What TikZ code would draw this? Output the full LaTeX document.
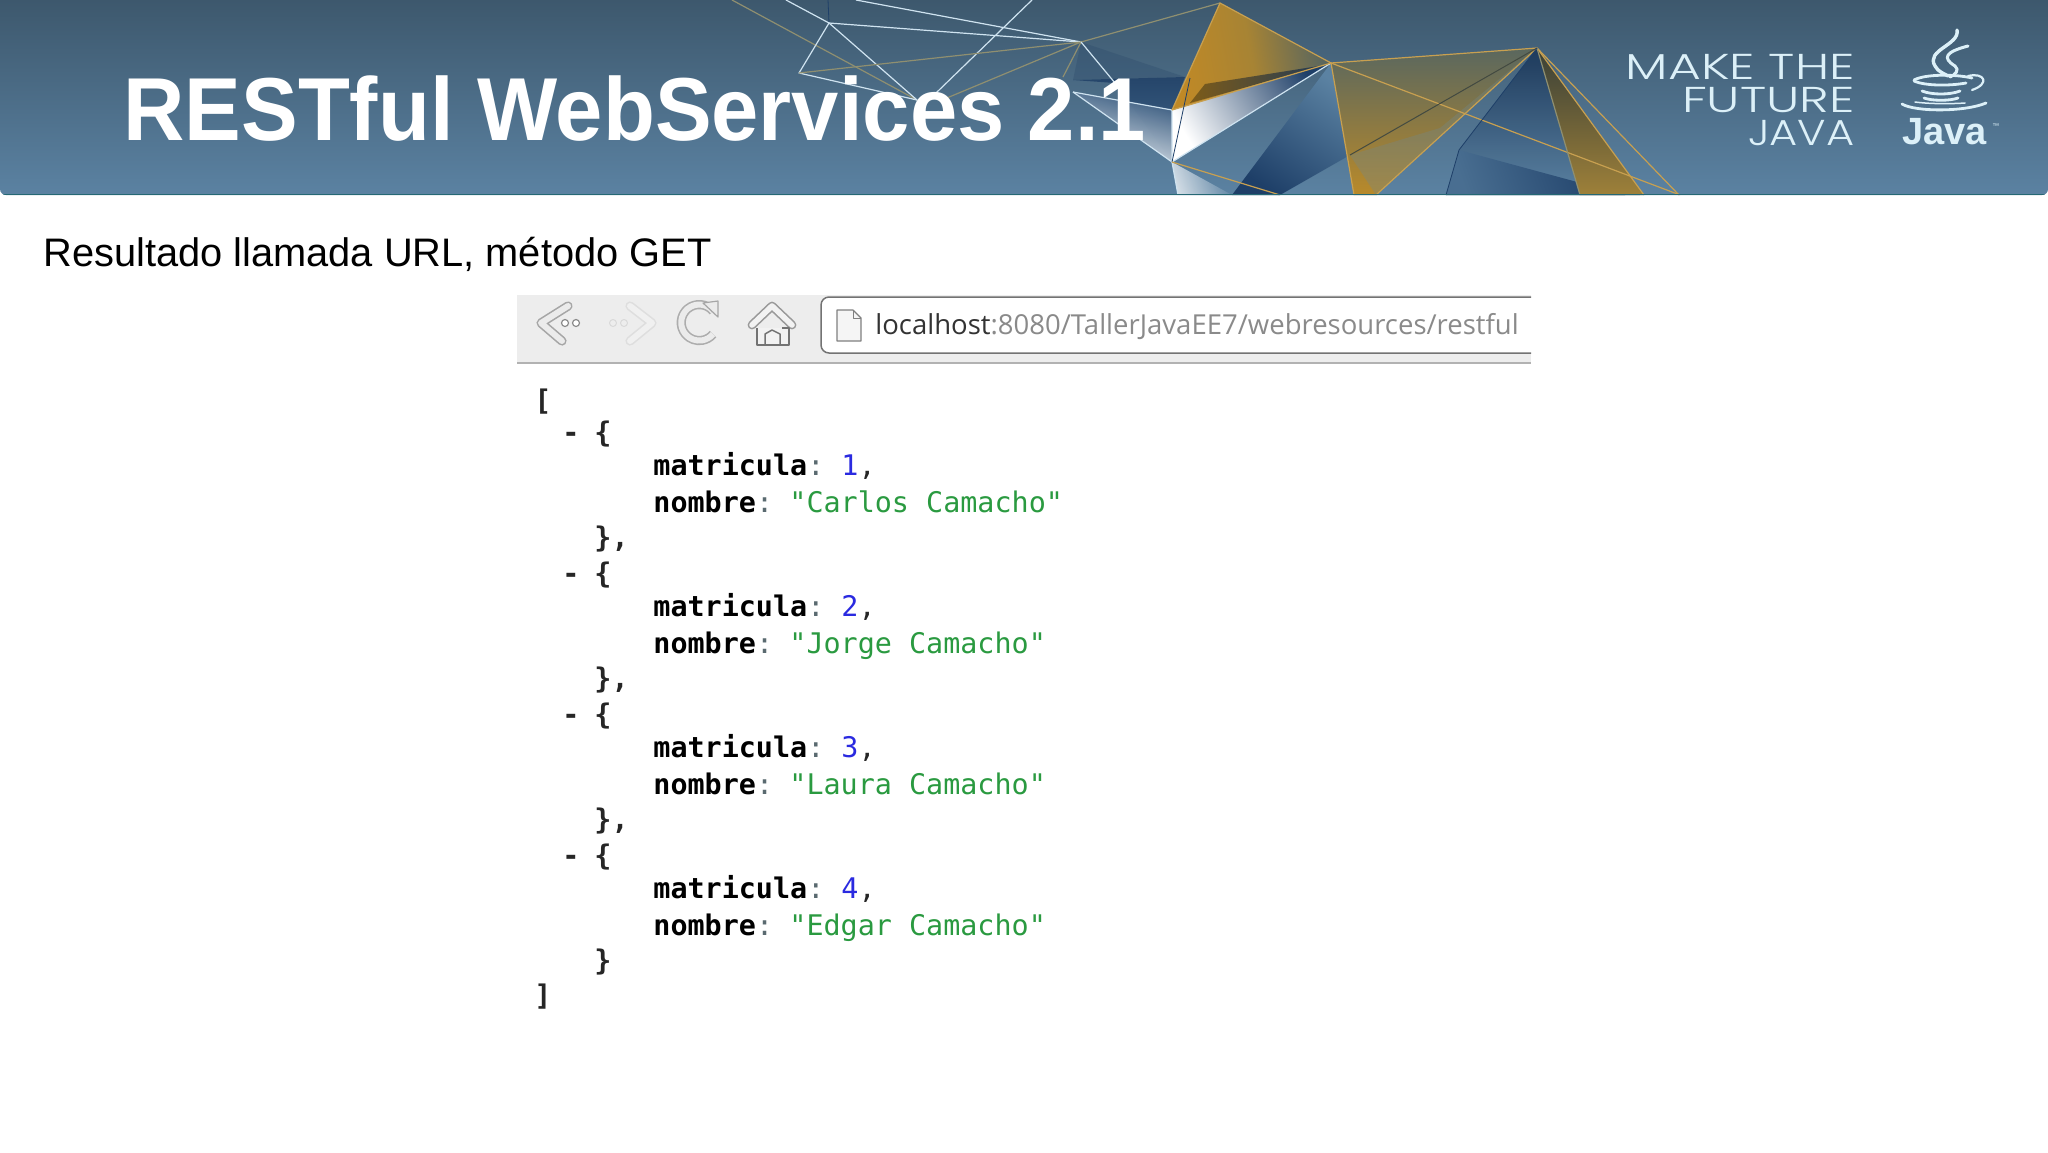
\documentclass[tikz,border=0pt]{standalone}
\usepackage{fontspec}
\setmainfont{Liberation Sans}
\newfontfamily\jsonf{DejaVu Sans Mono}
\newfontfamily\urlf{Open Sans}
\newfontfamily\lightf{Poppins Light}
\definecolor{hdtop}{HTML}{3D586D}
\definecolor{hdbot}{HTML}{5B82A2}
\definecolor{gold}{HTML}{C8A050}
\definecolor{olive}{HTML}{8F8F70}
\definecolor{pale}{HTML}{CFE3F0}
\definecolor{logo}{HTML}{DCF0F8}
\definecolor{jgreen}{HTML}{2A9A40}
\definecolor{jblue}{HTML}{2A2AE0}
\definecolor{jgray}{HTML}{5A6A70}
\definecolor{urlgray}{HTML}{8A8A8A}
\definecolor{navy}{HTML}{1E3F68}
\definecolor{amber}{HTML}{B98A2A}
\definecolor{moss}{HTML}{5F6A5C}
\tikzset{
  goldline/.style={gold,line width=.6pt},
  oliveline/.style={olive,line width=.6pt},
  paleline/.style={pale,line width=.6pt},
  darkline/.style={navy,line width=.4pt},
  txt/.style={inner sep=0pt,anchor=base west},
  jsontxt/.style={txt,font=\fontsize{14.2}{16}\jsonf},
  jkey/.style={jsontxt,font=\fontsize{14.2}{16}\jsonf\bfseries},
  jpunct/.style={jkey,text=black!85},
  slogan/.style={inner sep=0pt,anchor=base east,text=logo,font=\fontsize{18}{20}\lightf},
}
\begin{document}
\begin{tikzpicture}[x=0.5pt,y=-0.5pt,line join=round]
\useasboundingbox (0,0) rectangle (2048,1152);
\fill[white] (0,0) rectangle (2048,1152);
% header
\begin{scope}
\clip[rounded corners=3pt] (0,-6) rectangle (2048,195);
\shade[top color=hdtop,bottom color=hdbot] (0,0) rectangle (2048,195);
% filled facets
\fill[navy!50!hdtop,opacity=.35] (1081,42) -- (1185,77) -- (1073,80) -- cycle;
\shade[top color=navy!80!hdtop,bottom color=navy!40!hdbot,fill opacity=.95] (1073,80) -- (1185,77) -- (1172,110) -- (1172,162) -- (1115,83) -- cycle;
\shade[top color=navy!65!hdbot,bottom color=white!85!hdbot,shading angle=-15,fill opacity=.95] (1073,92) -- (1172,110) -- (1172,162) -- cycle;
\shade[top color=hdbot,bottom color=white!80!hdbot,shading angle=-70,fill opacity=.9] (1172,162) -- (1232,195) -- (1178,195) -- cycle;
\shade[top color=hdbot,bottom color=navy,shading angle=-35] (1331,63) -- (1350,155) -- (1280,195) -- (1232,195) -- cycle;
\shade[top color=navy,bottom color=white,shading angle=-58] (1172,110) -- (1331,63) -- (1172,162) -- cycle;
\shade[top color=moss!70!hdtop,bottom color=amber!90!orange,middle color=amber!80!moss,shading angle=-80] (1220,3) -- (1331,63) -- (1172,110) -- cycle;
\shade[top color=navy!80!black,bottom color=amber!60!black,shading angle=-85,fill opacity=.85] (1205,84) -- (1325,65) -- (1190,103) -- cycle;
\shade[top color=navy!85!black,bottom color=hdbot,fill opacity=.9] (1537,48) -- (1459,150) -- (1446,195) -- (1640,195) -- cycle;
\shade[top color=navy,bottom color=hdbot!70!navy,shading angle=-70] (1459,150) -- (1446,195) -- (1625,195) -- cycle;
\shade[top color=moss!60!black,bottom color=amber!70!moss] (1537,48) -- (1580,195) -- (1644,195) -- cycle;
\shade[top color=moss!85!hdtop,bottom color=amber] (1331,63) -- (1537,48) -- (1376,195) -- (1354,195) -- cycle;
\fill[olive!45!hdbot,opacity=.35] (1440,128) -- (1537,48) -- (1376,195) -- (1350,155) -- cycle;
% lines
\draw[oliveline] (732,0) -- (917,100);
\draw[darkline] (828,0) -- (829,23);
\draw[paleline] (786,0) -- (829,23);
\draw[paleline] (856,0) -- (1081,42);
\draw[paleline] (1032,0) -- (936,93);
\draw[paleline] (829,23) -- (1081,42);
\draw[paleline] (829,23) -- (917,100);
\draw[paleline] (829,23) -- (799,73) -- (917,100);
\draw[oliveline] (799,73) -- (1081,42) -- (942,100);
\draw[oliveline] (1081,42) -- (1220,3);
\draw[oliveline] (1081,42) -- (1063,77);
\draw[paleline] (1081,42) -- (1115,83);
\draw[paleline] (1073,92) -- (1172,110);
\draw[paleline] (1073,92) -- (1172,162) -- (1172,110);
\draw[paleline] (1172,162) -- (1178,195);
\draw[paleline] (1172,162) -- (1331,63);
\draw[goldline] (1172,110) -- (1220,3) -- (1331,63) -- (1172,110);
\draw[darkline] (1172,162) -- (1190,78);
\draw[goldline] (1172,162) -- (1280,195);
\draw[goldline] (1331,63) -- (1537,48);
\draw[goldline] (1331,63) -- (1354,195);
\draw[goldline] (1331,63) -- (1680,195);
\draw[goldline] (1537,48) -- (1376,195);
\draw[goldline] (1537,48) -- (1644,195);
\draw[goldline] (1537,48) -- (1679,195);
\draw[oliveline] (1537,48) -- (1580,195);
\draw[moss!70!black,line width=.5pt] (1537,48) -- (1350,155);
\draw[darkline] (1537,48) -- (1459,150) -- (1446,195);
\draw[hdtop!60!teal,line width=.75pt] (0,194.5) -- (2048,194.5);
\end{scope}
% title
\node[txt,text=white,font=\fontsize{44.7}{50}\selectfont\bfseries] (title) at (123,140) {\scalebox{.95}[1]{RESTful WebServices 2.1}};
% slogan
\node[slogan] (s1) at (1855,79) {\scalebox{1.4}[1]{MAKE THE}};
\node[slogan] (s2) at (1855,112) {\scalebox{1.4}[1]{FUTURE}};
\node[slogan] (s3) at (1855,145) {\scalebox{1.2}[1]{JAVA}};
% java logo
\begin{scope}[logo,line cap=round]
\draw[line width=1.7pt] (1957,30) .. controls (1960,45) and (1925,50) .. (1935,66) .. controls (1938,72) and (1945,74) .. (1948,76);
\draw[line width=1.5pt] (1968,46) .. controls (1945,52) and (1942,58) .. (1955,66) .. controls (1960,70) and (1955,75) .. (1950,77);
\draw[line width=1.4pt] (1914,80) .. controls (1925,74) and (1955,74) .. (1972,78);
\draw[line width=1.4pt] (1914,81) .. controls (1925,86) and (1950,86) .. (1966,83);
\draw[line width=1.1pt] (1968,76) .. controls (1985,72) and (1990,84) .. (1972,90);
\draw[line width=1.4pt] (1922,91) .. controls (1932,95) and (1950,95) .. (1960,91);
\draw[line width=1.4pt] (1924,98) .. controls (1932,101) and (1950,101) .. (1958,98);
\draw[line width=1.4pt] (1902,104) .. controls (1915,112) and (1965,112) .. (1986,103);
\draw[line width=.75pt] (1915,102) .. controls (1930,104) and (1950,104) .. (1965,103);
\end{scope}
\node[txt,text=logo,font=\fontsize{19}{24}\selectfont\bfseries] (jv) at (1902,144) {Java};
\node[txt,text=logo,font=\fontsize{3.5}{5}\selectfont] (tm) at (1992,128) {™};
% subtitle
\node[txt,text=black,font=\fontsize{19.9}{24}\selectfont] (sub) at (43,266) {Resultado llamada URL, método GET};
% browser bar
\fill[black!7] (517,295) rectangle (1531,362);
\draw[black!30,line width=1pt] (517,363) -- (1531,363);
\draw[black!55,line width=.75pt,fill=white,rounded corners=4pt] (1531,297) -- (821,297) -- (821,353) -- (1531,353);
% icons
\draw[black!35,line width=4.6pt,line cap=round] (568,306) -- (541,323) -- (562,341);
\draw[black!8,line width=3pt,line cap=round] (568,306) -- (541,323) -- (562,341);
\draw[black!45,line width=.6pt,fill=white] (565,323) circle[radius=3.5] (576,323) circle[radius=3.5];
\draw[black!13,line width=4.6pt,line cap=round] (630,306) -- (652,323) -- (630,341);
\draw[black!6,line width=3pt,line cap=round] (630,306) -- (652,323) -- (630,341);
\draw[black!15,line width=.5pt] (613,323) circle[radius=3.5] (624,323) circle[radius=3.5];
\draw[black!32,line width=4.6pt] (713,311) arc[start angle=-40,end angle=-320,radius=18];
\draw[black!8,line width=3pt] (713,311) arc[start angle=-40,end angle=-320,radius=18];
\fill[black!8,draw=black!35,line width=.6pt] (703,303) -- (718,301) -- (718,317) -- cycle;
\draw[black!40,line width=4.4pt,line cap=round] (752,325) -- (772,306) -- (792,325);
\draw[black!5,line width=2.8pt,line cap=round] (752,325) -- (772,306) -- (792,325);
\draw[black!55,line width=.75pt,fill=black!5] (757,328) -- (757,345) -- (789,345) -- (789,328) -- (782,328);
\draw[black!55,line width=.75pt] (765,345) -- (765,334) -- (772,330) -- (780,334) -- (780,345);
\draw[black!50,line width=.6pt,fill=black!4] (837,310) -- (853,310) -- (861,318) -- (861,341) -- (837,341) -- cycle;
\draw[black!50,line width=.5pt] (853,310) -- (853,318) -- (861,318);
% url
\node[txt,font=\fontsize{13.75}{17}\urlf] (url) at (875,334) {\textcolor{black!80}{localhost}\textcolor{urlgray}{:8080/TallerJavaEE7/webresources/restful}};
% json
\node[jpunct] (o) at (534,410) {[};
\foreach \i/\off/\num/\who in {1/0/1/Carlos Camacho,2/141/2/Jorge Camacho,3/282/3/Laura Camacho,4/423/4/Edgar Camacho}{
  \node[jpunct] (d\i) at (562,442+\off) {-};
  \node[jpunct] (b\i) at (594,442+\off) {\{};
  \node[jkey] (m\i) at (653,475+\off) {matricula\textcolor{jgray}{\mdseries:}};
  \node[jsontxt,text=jblue] (n\i) at (841,475+\off) {\num\textcolor{black!85}{,}};
  \node[jkey] (k\i) at (653,512+\off) {nombre\textcolor{jgray}{\mdseries:}};
  \node[jsontxt,text=jgreen] (v\i) at (789,512+\off) {"\who"};
}
\foreach \i/\off in {1/0,2/141,3/282}{
  \node[jpunct] (c\i) at (594,547+\off) {\},};
}
\node[jpunct] (c4) at (594,970) {\}};
\node[jpunct] (e) at (534,1005) {]};
\end{tikzpicture}
\end{document}
